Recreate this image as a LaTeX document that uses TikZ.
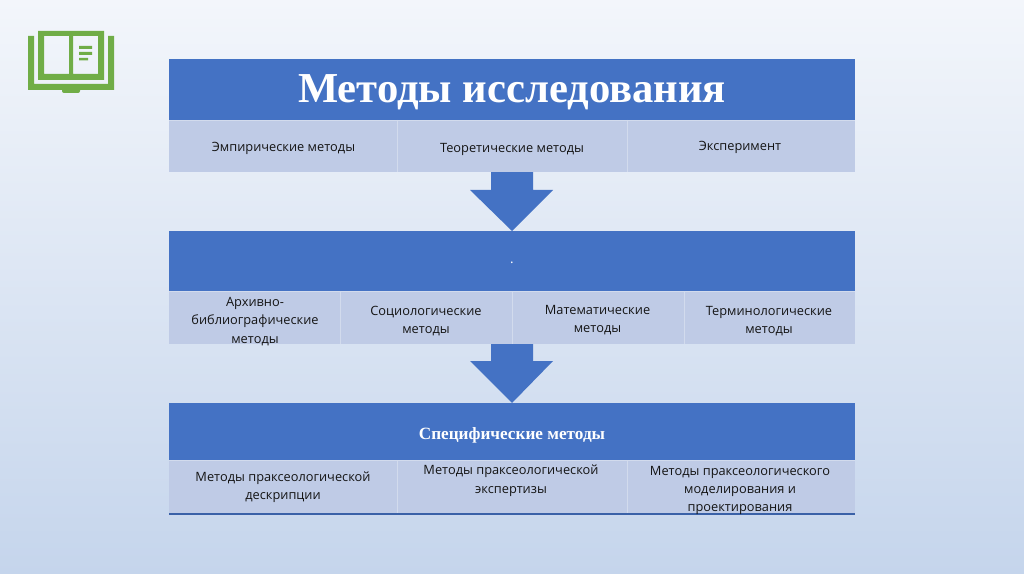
\documentclass[tikz,border=0pt]{standalone}
\usepackage{fontspec}
\setmainfont{Open Sans}
\newfontfamily\headfont{Liberation Serif}
\usetikzlibrary{positioning}
\definecolor{headblue}{HTML}{4472C4}
\definecolor{cellblue}{HTML}{BFCBE6}
\definecolor{bookgreen}{HTML}{70AD47}
\definecolor{bgtop}{HTML}{F3F6FB}
\definecolor{bgbottom}{HTML}{C5D5EC}
\tikzset{
  celltxt/.style={align=center,font=\fontsize{9.6}{13.8}\selectfont,text=black!92,inner sep=0pt},
  headtxt/.style={text=white,inner sep=0pt},
  divider/.style={white!30!cellblue,line width=0.5pt}
}
\begin{document}
\begin{tikzpicture}[x=0.75pt,y=-0.75pt]
  % background
  \shade[top color=bgtop,bottom color=bgbottom] (0,0) rectangle (1024,574);
  \useasboundingbox (0,0) rectangle (1024,574);
  % book icon
  \fill[bookgreen] (28,36) -- (34,36) -- (34,84) -- (108,84) -- (108,36) -- (114,36) -- (114,90) -- (28,90) -- cycle;
  \fill[bookgreen,rounded corners=1.5pt] (62,88) -- (62,93) -- (80,93) -- (80,88) -- cycle;
  \fill[bookgreen,even odd rule] (38,31) rectangle (104,80) (44,36) rectangle (69,74) (73,36) rectangle (98,74);
  \fill[bookgreen] (79,46) rectangle (92,49) (79,52) rectangle (92,55) (79,58) rectangle (88,60.5);
  % arrows between the tables
  \fill[headblue] (491,172) -- (533,172) -- (533,190) -- (553,190) -- (512,231) -- (470,190) -- (491,190) -- cycle;
  \fill[headblue] (491,344) -- (533,344) -- (533,361) -- (553,361) -- (512,403) -- (470,361) -- (491,361) -- cycle;
  % first table
  \fill[headblue] (169,59) rectangle (855,120);
  \fill[cellblue] (169,120) rectangle (855,172);
  \draw[divider] (169,120) -- (855,120) (397,120) -- (397,172) (627,120) -- (627,172);
  \node[headtxt,font=\headfont\bfseries\fontsize{32}{36}\selectfont] (title) at (512,92) {Методы исследования};
  \node[celltxt] (empir) at (283.5,148) {Эмпирические методы};
  \node[celltxt] (theor) at (512,149) {Теоретические методы};
  \node[celltxt] (exper) at (740,147) {Эксперимент};
  % second table
  \fill[headblue] (169,231) rectangle (855,291);
  \fill[cellblue] (169,291) rectangle (855,344);
  \draw[divider] (169,291) -- (855,291) (340,291) -- (340,344) (512,291) -- (512,344) (684,291) -- (684,344);
  \node[headtxt,font=\fontsize{10}{10}\selectfont] (dot) at (512,263) {.};
  \node[celltxt] (arch) at (255,321.5) {Архивно-\\библиографические\\методы};
  \node[celltxt] (socio) at (426,321) {Социологические\\методы};
  \node[celltxt] (math) at (597.5,320) {Математические\\методы};
  \node[celltxt] (term) at (769,321) {Терминологические\\методы};
  % third table
  \fill[headblue] (169,403) rectangle (855,460);
  \fill[cellblue] (169,460) rectangle (855,514);
  \draw[divider] (169,460) -- (855,460) (397,460) -- (397,514) (627,460) -- (627,514);
  \draw[headblue!85!black,line width=1.1pt] (169,514) -- (855,514);
  \node[headtxt,font=\headfont\bfseries\fontsize{12.9}{15}\selectfont] (spec) at (512,435) {Специфические методы};
  \node[celltxt] (descr) at (283,487) {Методы праксеологической\\дескрипции};
  \node[celltxt] (expert) at (511,480.5) {Методы праксеологической\\экспертизы};
  \node[celltxt] (model) at (740,490.5) {Методы праксеологического\\моделирования и\\проектирования};
\end{tikzpicture}
\end{document}
